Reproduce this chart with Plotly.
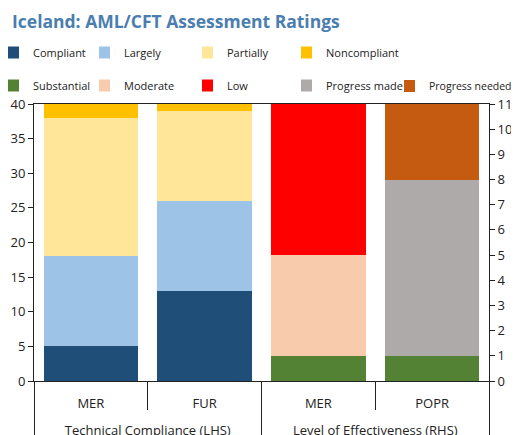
import plotly.graph_objects as go

groups = ["<br>Technical Compliance (LHS)", "<br>Technical Compliance (LHS)",
          "<br>Level of Effectiveness (RHS)", "<br>Level of Effectiveness (RHS)"]
subcats = ["MER", "FUR", "MER", "POPR"]

# Technical compliance (left axis)
tc_x_groups = groups[:2]
tc_x_sub = subcats[:2]
compliant = [5, 13]
largely = [13, 13]
partially = [20, 13]
noncompliant = [2, 1]

# Level of effectiveness (right axis)
le_x_groups = groups[2:]
le_x_sub = subcats[2:]
substantial = [1, 1]
moderate = [4, 0]
low = [6, 0]
progress_made = [0, 7]
progress_needed = [0, 3]

fig = go.Figure()

tc_series = [("Compliant", compliant, "#1F4E79", "legend"),
             ("Largely", largely, "#9DC3E6", "legend2"),
             ("Partially", partially, "#FFE699", "legend3"),
             ("Noncompliant", noncompliant, "#FFC000", "legend4")]
le_series = [("Substantial", substantial, "#548235", "legend"),
             ("Moderate", moderate, "#F8CBAD", "legend2"),
             ("Low", low, "#FF0000", "legend3"),
             ("Progress made", progress_made, "#AEAAAA", "legend4"),
             ("Progress needed", progress_needed, "#C55A11", "legend5")]

for name, vals, col, lg in tc_series:
    fig.add_trace(go.Bar(x=[tc_x_groups, tc_x_sub], y=vals, name=name,
                         marker=dict(color=col, line=dict(width=0)),
                         yaxis="y", legend=lg, legendgroup=name))
for name, vals, col, lg in le_series:
    fig.add_trace(go.Bar(x=[le_x_groups, le_x_sub], y=vals, name=name,
                         marker=dict(color=col, line=dict(width=0)),
                         yaxis="y2", legend=lg, legendgroup=name))

font = "Open Sans, Noto Sans, sans-serif"


def legend_cfg(x, y, size=11):
    return dict(x=x, y=y, orientation="v", xanchor="left", yanchor="middle",
                xref="container", yref="container",
                font=dict(family=font, size=size, color="#222"),
                itemwidth=30, traceorder="grouped", indentation=-15,
                bgcolor="rgba(0,0,0,0)", tracegroupgap=14)


row_mid = 1 - 61 / 435
row2 = 1 - 78 / 435

fig.update_layout(
    width=519, height=435,
    margin=dict(l=26, r=38, t=96, b=62, autoexpand=False),
    paper_bgcolor="white", plot_bgcolor="white",
    barmode="stack", bargap=0.17,
    title=dict(text="<b>Iceland: AML/CFT Assessment Ratings</b>",
               x=4 / 519, xanchor="left", y=0.969, yanchor="middle",
               font=dict(family=font, size=17.5, color="#4A7EB0")),
    legend=legend_cfg(0.0, row_mid),
    legend2=legend_cfg(91 / 519, row_mid),
    legend3=legend_cfg(194 / 519, row_mid),
    legend4=legend_cfg(293 / 519, row_mid),
    legend5=legend_cfg(396 / 519, row2, size=10.5),
    xaxis=dict(type="multicategory", showline=True, linecolor="#222", linewidth=1,
               ticks="outside", ticklen=28, tickcolor="#222",
               ticklabelstandoff=10,
               showdividers=True, dividercolor="#222", dividerwidth=1,
               tickfont=dict(family=font, size=13, color="#222"), mirror=True),
    yaxis=dict(range=[0, 40], dtick=5, showline=True, linecolor="#222",
               ticks="outside", ticklen=5, tickcolor="#222", showgrid=False,
               zeroline=False,
               tickfont=dict(family=font, size=13, color="#222")),
    yaxis2=dict(range=[0, 11], dtick=1, overlaying="y", side="right",
                showline=True, linecolor="#222", ticks="outside", ticklen=5,
                tickcolor="#222", showgrid=False, zeroline=False,
                tickfont=dict(family=font, size=13, color="#222")),
    showlegend=True,
)

fig.write_html("out.html")
